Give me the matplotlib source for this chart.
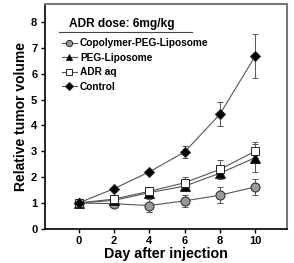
import numpy as np
import matplotlib.pyplot as plt
import matplotlib.lines as mlines

plt.rcParams['font.family'] = ['Liberation Sans', 'DejaVu Sans']
plt.rcParams['font.weight'] = 'bold'

days = [0, 2, 4, 6, 8, 10]

copolymer = [1.0, 0.97, 0.90, 1.08, 1.30, 1.62]
copolymer_err = [0.05, 0.12, 0.25, 0.22, 0.32, 0.30]

peg_lipo = [1.0, 1.10, 1.40, 1.65, 2.15, 2.75]
peg_lipo_err = [0.05, 0.10, 0.10, 0.12, 0.22, 0.55]

adr_aq = [1.0, 1.15, 1.45, 1.78, 2.30, 3.00]
adr_aq_err = [0.05, 0.10, 0.10, 0.22, 0.35, 0.35]

control = [1.0, 1.55, 2.20, 2.97, 4.43, 6.68]
control_err = [0.05, 0.06, 0.06, 0.22, 0.47, 0.85]

fig = plt.figure(figsize=(2.94, 2.63), dpi=100)
ax = fig.add_axes([0.153, 0.13, 0.823, 0.855])

line_c = '#555555'
series = [
    (copolymer, copolymer_err, 'o', '#999999', 'Copolymer-PEG-Liposome', 6.5),
    (peg_lipo, peg_lipo_err, '^', 'black', 'PEG-Liposome', 6.5),
    (adr_aq, adr_aq_err, 's', 'white', 'ADR aq', 6),
    (control, control_err, 'D', 'black', 'Control', 5.5),
]
handles = []
for vals, err, m, fc, lab, ms in series:
    ax.errorbar(days, vals, yerr=err, color=line_c, lw=0.8, ecolor='#555555',
                elinewidth=0.7, capsize=2, capthick=0.7, zorder=2)
    ax.plot(days, vals, linestyle='none', marker=m, ms=ms, mfc=fc,
            mec='#222222', mew=0.7, zorder=3)
    handles.append(mlines.Line2D([], [], color=line_c, lw=0.8, marker=m, ms=4.5,
                                 mfc=fc, mec='#222222', mew=0.7, label=lab))

ax.set_xlim(-1.9, 11.8)
ax.set_ylim(0, 8.7)
ax.set_xticks(days)
ax.set_yticks(range(0, 9))
ax.tick_params(direction='out', length=3, width=1, labelsize=8, pad=2.5)
for t in ax.get_xticklabels() + ax.get_yticklabels():
    t.set_fontweight('bold')
ax.set_xlabel('Day after injection', fontsize=10.3, fontweight='bold', labelpad=0.5)
ax.set_ylabel('Relative tumor volume', fontsize=10, fontweight='bold', labelpad=2)

ax.spines['left'].set_linewidth(1.2)
ax.spines['bottom'].set_linewidth(1.2)
ax.spines['top'].set_color('#777777')
ax.spines['right'].set_color('#777777')
ax.spines['top'].set_linewidth(1.5)
ax.spines['right'].set_linewidth(1.5)

leg = ax.legend(handles=handles, loc='upper left', bbox_to_anchor=(0.055, 0.865),
                frameon=False, fontsize=7.3, handlelength=1.4, handletextpad=0.35,
                labelspacing=0.45, borderaxespad=0)
for t in leg.get_texts():
    t.set_fontweight('bold')
ax.text(0.1, 0.913, 'ADR dose: 6mg/kg', transform=ax.transAxes, fontsize=8.6,
        fontweight='bold', va='center', ha='left')
ax.plot([0.058, 0.608], [0.876, 0.876], transform=ax.transAxes, color='#444444',
        lw=0.8, clip_on=False)

fig.savefig('out.png', dpi=100)
